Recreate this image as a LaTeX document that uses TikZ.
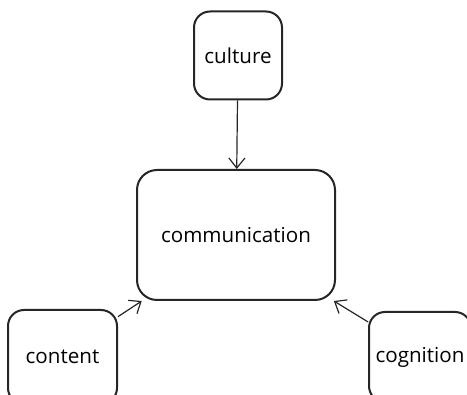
\documentclass[tikz,border=0pt]{standalone}
\usepackage{fontspec}
\setmainfont{Open Sans}
\usetikzlibrary{shapes, arrows.meta}
\tikzstyle{small} = [rectangle, draw = black!85, line width = 1pt, minimum width = 44pt, minimum height = 44pt, rounded corners = 8pt, inner sep = 0pt]
\tikzstyle{big} = [rectangle, draw = black!85, line width = 1pt, minimum width = 99pt, minimum height = 65pt, rounded corners = 10pt, inner sep = 0pt]
\tikzstyle{arrow} = [draw, -{Straight Barb[length = 5pt, width = 8pt]}, line width = 0.6pt, black!85]

\begin{document}
\begin{tikzpicture}[x = 0.5pt, y = -0.5pt, font = \fontsize{10.3}{12}\selectfont]
            \useasboundingbox (0, 0) rectangle (467, 395);
            \clip (0, 0) rectangle (467, 395);
            \node[small] (cult) at (238, 55.5) {culture};
            \node[big] (comm) at (236, 235) {communication};
            \node[small, minimum width = 54.5pt, minimum height = 47pt] (cont) at (62.5, 357) {content};
            \node[small, minimum width = 51pt, minimum height = 45pt] (cogn) at (420, 357) {cognition};

            \path[arrow] (cult) -- (comm);
            \path[arrow] (cont.36) -- (comm.215);
            \path[arrow] (cogn.146) -- (comm.326);
        \end{tikzpicture}
\end{document}
